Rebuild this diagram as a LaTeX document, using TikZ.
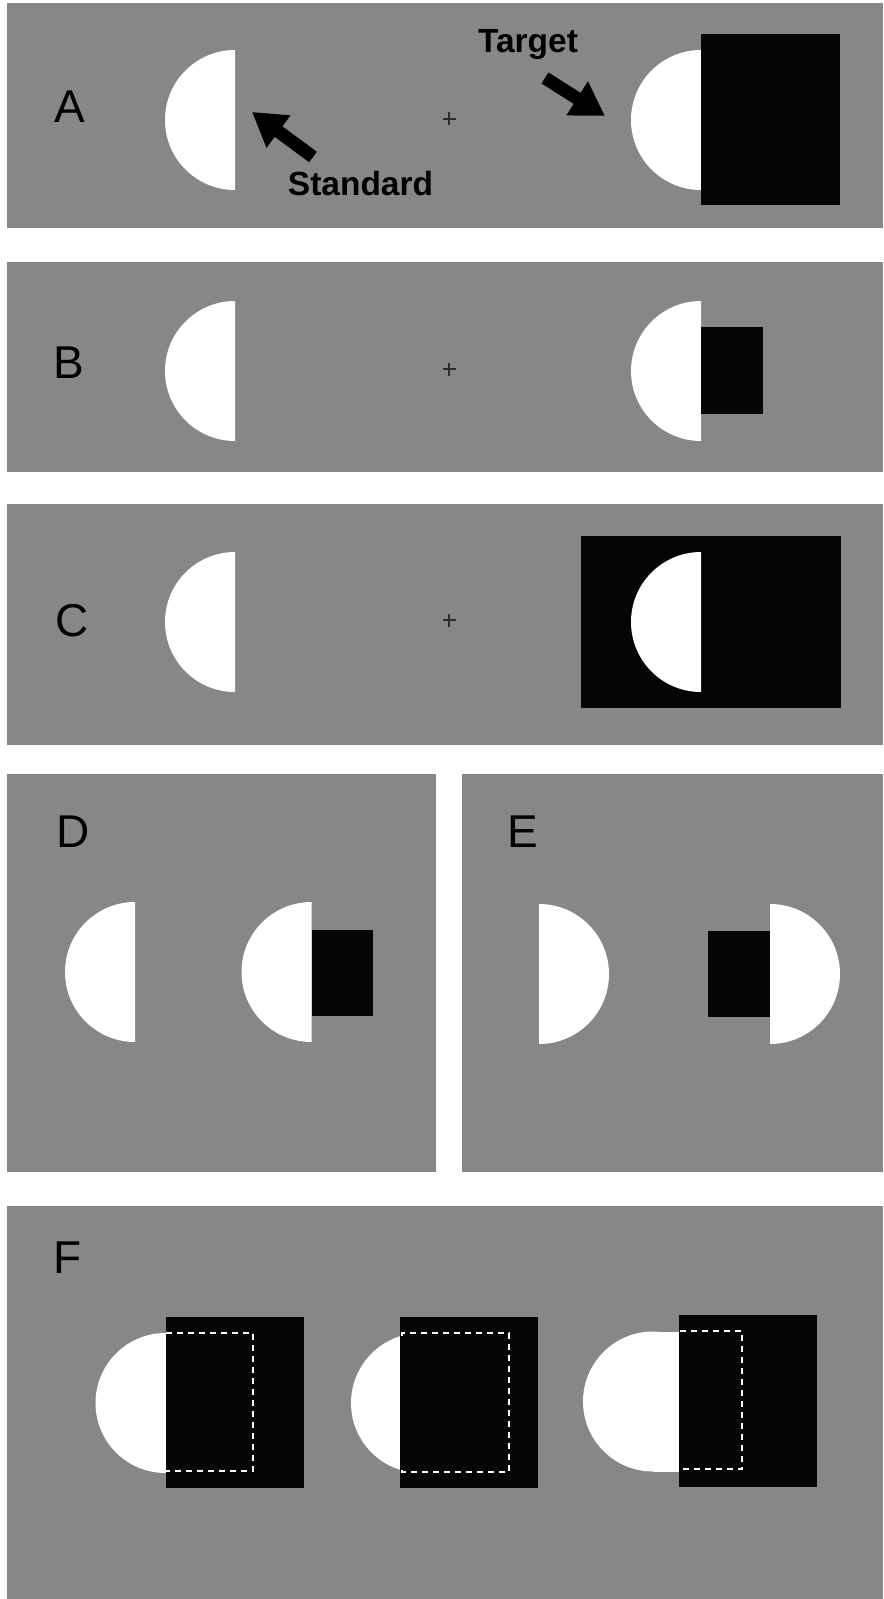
\documentclass[tikz,border=0pt]{standalone}
\usepackage{fontspec}
\setmainfont{Liberation Sans}
\usetikzlibrary{arrows.meta}
\definecolor{panelgray}{RGB}{135,135,135}
\definecolor{nearblack}{RGB}{5,5,5}
\definecolor{crossgray}{RGB}{45,45,45}
\tikzset{
  panel/.style={fill=panelgray},
  letter/.style={inner sep=0pt, anchor=base, font=\fontsize{23}{23}\selectfont},
  lab/.style={inner sep=0pt, anchor=base, font=\fontsize{16.75}{17}\selectfont\bfseries},
  bigarrow/.style={draw=black, line width=6.5pt, -{Triangle[length=16.5pt,width=19pt]}},
  blackrect/.style={fill=nearblack},
  diskfill/.style={fill=white},
  occl/.style={draw=white, line width=1pt, dash pattern=on 3pt off 2.5pt},
  fixcross/.style={draw=crossgray, line width=0.9pt}
}
% left-pointing half disk: flat edge at x=#1, centre y=#2
\newcommand{\halfLeft}[2]{\begin{scope}\clip (#1-72,#2-72) rectangle (#1,#2+72);
  \fill[diskfill] (#1,#2) circle[radius=70];\end{scope}}
% right-pointing half disk
\newcommand{\halfRight}[2]{\begin{scope}\clip (#1,#2-72) rectangle (#1+72,#2+72);
  \fill[diskfill] (#1,#2) circle[radius=70];\end{scope}}
\newcommand{\fixplus}[2]{\draw[fixcross] (#1-6.5,#2) -- (#1+6.5,#2) (#1,#2-6.5) -- (#1,#2+6.5);}
\begin{document}
\begin{tikzpicture}[x=0.5pt,y=-0.5pt]
\useasboundingbox (0,0) rectangle (883,1599);
\fill[white] (0,0) rectangle (883,1599);

% ---------- Panel A ----------
\fill[panel] (7,3.5) rectangle (883,228);
\node[letter] (lA) at (69.5,123) {A};
\halfLeft{235}{120}
\fixplus{449}{119}
\fill[diskfill] (701,120) circle[radius=70];
\fill[blackrect] (701,34) rectangle (840,205);
\node[lab] (target) at (528,53) {Target};
\node[lab] (standard) at (360.5,196) {Standard};
\coordinate (stdtail) at (313,157);
\coordinate (stdtip) at (252,112);
\coordinate (tgttail) at (545,78);
\coordinate (tgttip) at (605,116);
\draw[bigarrow] (stdtail) -- (stdtip);
\draw[bigarrow] (tgttail) -- (tgttip);

% ---------- Panel B ----------
\fill[panel] (7,262) rectangle (883,471.5);
\node[letter] (lB) at (68.5,379) {B};
\halfLeft{235}{371}
\fixplus{449}{369}
\halfLeft{701}{371}
\fill[blackrect] (701,327.5) rectangle (763,414);

% ---------- Panel C ----------
\fill[panel] (7,504) rectangle (883,745);
\node[letter] (lC) at (72.5,636) {C};
\halfLeft{235}{622}
\fixplus{449}{620}
\fill[blackrect] (581,536) rectangle (841,708);
\halfLeft{701}{622}

% ---------- Panel D ----------
\fill[panel] (7,774) rectangle (435.5,1172);
\node[letter] (lD) at (73.5,847) {D};
\halfLeft{135}{972}
\halfLeft{311.5}{972}
\fill[blackrect] (311.5,930) rectangle (373,1016);

% ---------- Panel E ----------
\fill[panel] (461.5,774) rectangle (883,1172);
\node[letter] (lE) at (522.5,847) {E};
\halfRight{539}{974}
\halfRight{770}{974}
\fill[blackrect] (708,931) rectangle (770,1017);

% ---------- Panel F ----------
\fill[panel] (7,1206) rectangle (883,1599);
\node[letter] (lF) at (67.5,1273) {F};
% shape 1
\fill[diskfill] (165.5,1403) circle[radius=70];
\fill[blackrect] (165.5,1317) rectangle (304,1488);
\draw[occl] (166,1333) -- (253,1333) -- (253,1471) -- (166,1471);
% shape 2
\fill[diskfill] (421,1403) circle[radius=70];
\fill[blackrect] (400,1317) rectangle (538,1488);
\draw[occl] (402,1336) -- (402,1333) -- (509,1333) -- (509,1472) -- (402,1472) -- (402,1469);
% shape 3
\fill[diskfill] (653,1401.5) circle[radius=70];
\fill[diskfill] (653,1331.5) rectangle (680,1471.5);
\fill[blackrect] (679,1315) rectangle (817,1487);
\draw[occl] (680,1331) -- (742,1331) -- (742,1469) -- (680,1469);
\end{tikzpicture}
\end{document}
